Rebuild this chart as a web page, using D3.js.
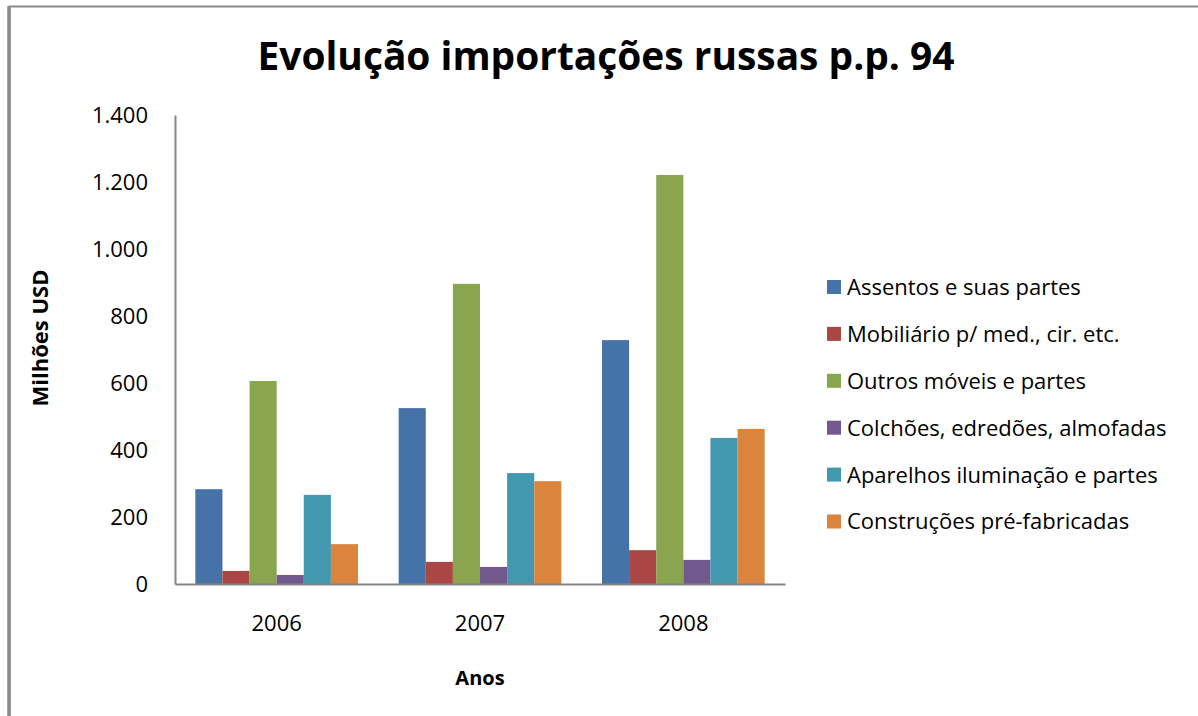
<!DOCTYPE html>
<html>
<head>
<meta charset="utf-8">
<script src="https://cdn.jsdelivr.net/npm/d3@7"></script>
<style>
  body { margin: 0; background: #fff; }
  text { font-family: "Open Sans", sans-serif; fill: #000; }
</style>
</head>
<body>
<div id="chart"></div>
<script>
// data (milhões USD)
var years = ["2006", "2007", "2008"];
var seriesNames = [
  "Assentos e suas partes",
  "Mobiliário p/ med., cir. etc.",
  "Outros móveis e partes",
  "Colchões, edredões, almofadas",
  "Aparelhos iluminação e partes",
  "Construções pré-fabricadas"
];
var assentos = [283, 525, 728];
var mobiliario = [39, 66, 101];
var outros = [606, 896, 1221];
var colchoes = [27, 51, 72];
var aparelhos = [266, 331, 436];
var construcoes = [119, 307, 463];
var yTicks = [0, 200, 400, 600, 800, 1000, 1200, 1400];
var colors = ["#4572A7", "#AA4643", "#89A54E", "#71588F", "#4198AF", "#DB843D"];

var allSeries = [assentos, mobiliario, outros, colchoes, aparelhos, construcoes];

var W = 1198, H = 716;
var plot = {left: 175, right: 785, top: 115, bottom: 584};

var svg = d3.select("#chart").append("svg")
  .attr("width", W)
  .attr("height", H);

// frame (only left and top edges show in the picture)
svg.append("path")
  .attr("d", "M9.5," + H + "V6.5H" + W)
  .attr("fill", "none")
  .attr("stroke", "#8a8a8a")
  .attr("stroke-width", 2);
svg.append("line")
  .attr("x1", 9).attr("x2", 9).attr("y1", 6).attr("y2", H)
  .attr("stroke", "#8a8a8a").attr("stroke-width", 3.5);

var x = d3.scaleBand()
  .domain(years)
  .range([plot.left, plot.right])
  .padding(0);

// excel gap width 150% -> group takes 6/7.5 of the band
var gap = x.bandwidth() * 1.5 / 7.5;
var xInner = d3.scaleBand()
  .domain(d3.range(seriesNames.length))
  .range([gap / 2, x.bandwidth() - gap / 2]);

var y = d3.scaleLinear()
  .domain([0, 1400])
  .range([plot.bottom, plot.top]);

var fmt = function(d) { return d3.format(",")(d).replace(/,/g, "."); };

// bars
allSeries.forEach(function(vals, s) {
  svg.append("g").selectAll("rect")
    .data(vals)
    .enter().append("rect")
    .attr("x", function(d, i) { return x(years[i]) + xInner(s); })
    .attr("width", xInner.bandwidth())
    .attr("y", function(d) { return y(d); })
    .attr("height", function(d) { return y(0) - y(d); })
    .attr("fill", colors[s]);
});

// y axis
var gy = svg.append("g")
  .attr("transform", "translate(" + plot.left + ",0)")
  .call(d3.axisLeft(y).tickValues(yTicks).tickFormat(fmt).tickSize(0).tickPadding(27));
gy.select(".domain").attr("stroke", "#868686").attr("stroke-width", 2);
gy.selectAll("text")
  .style("font-family", "Open Sans")
  .style("font-size", "22px")
  .attr("fill", "#000");

// x axis
var gx = svg.append("g")
  .attr("transform", "translate(0," + plot.bottom + ")")
  .call(d3.axisBottom(x).tickSize(0).tickPadding(31));
gx.select(".domain").attr("stroke", "#868686").attr("stroke-width", 2);
gx.selectAll("text")
  .style("font-family", "Open Sans")
  .style("font-size", "22px")
  .attr("fill", "#000");

// title
svg.append("text")
  .attr("x", 606)
  .attr("y", 70)
  .attr("text-anchor", "middle")
  .attr("textLength", 697)
  .attr("lengthAdjust", "spacingAndGlyphs")
  .style("font-size", "39px")
  .style("font-weight", "bold")
  .text("Evolução importações russas p.p. 94");

// axis titles
svg.append("text")
  .attr("transform", "translate(48,338) rotate(-90)")
  .attr("text-anchor", "middle")
  .style("font-size", "22px")
  .style("font-weight", "bold")
  .text("Milhões USD");

svg.append("text")
  .attr("x", 480)
  .attr("y", 685)
  .attr("text-anchor", "middle")
  .style("font-size", "20px")
  .style("font-weight", "bold")
  .text("Anos");

// legend
var legend = svg.append("g").selectAll("g")
  .data(seriesNames)
  .enter().append("g")
  .attr("transform", function(d, i) { return "translate(827," + (287 + i * 46.9) + ")"; });

legend.append("rect")
  .attr("x", 0)
  .attr("y", -7)
  .attr("width", 14)
  .attr("height", 14)
  .attr("fill", function(d, i) { return colors[i]; });

legend.append("text")
  .attr("x", 20)
  .attr("dy", "0.36em")
  .style("font-size", "22px")
  .text(function(d) { return d; });
</script>
</body>
</html>
